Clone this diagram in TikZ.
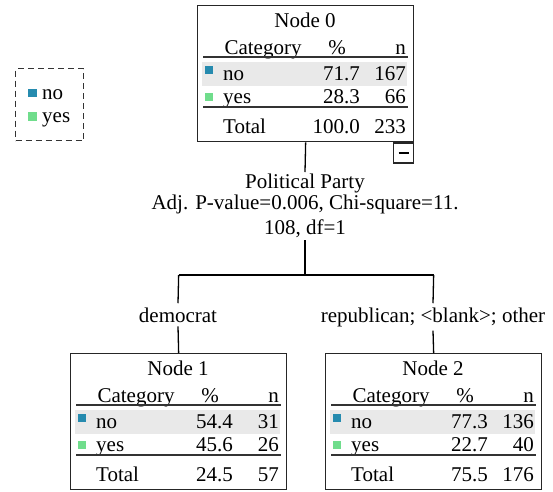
\documentclass[tikz,border=0pt]{standalone}
\usepackage{fontspec}
\setmainfont{Liberation Serif}
\definecolor{noblue}{RGB}{38,139,175}
\definecolor{yesgreen}{RGB}{112,221,140}
\definecolor{rowgray}{RGB}{233,233,233}
\tikzset{
  treebox/.style={draw=black!85, line width=1.3pt, minimum width=216pt,
    minimum height=136pt, anchor=north west, inner sep=0pt},
  cell/.style={inner sep=0pt, font=\fontsize{21}{24}\selectfont},
  tablerule/.style={line width=1.6pt, draw=black!80},
  link/.style={line width=1.3pt},
}
\newcommand{\catbox}[8]{%
  \begin{scope}[shift={#2}]
    \fill[rowgray] (5,57) rectangle (210,81);
    \node[treebox] (node#1) at (0,0) {};
    \node[cell, anchor=base] (n#1-title) at (108,22) {Node #1};
    \node[cell, anchor=base] (n#1-cat) at (66,49) {Category};
    \node[cell, anchor=base] (n#1-pct) at (140,49) {\%};
    \node[cell, anchor=base east] (n#1-n) at (209,49) {n};
    \draw[tablerule] (6,52) -- (211,52);
    \fill[noblue] (8,61) rectangle (16,69);
    \node[cell, anchor=base west] (n#1-no) at (26,75) {no};
    \node[cell, anchor=base east] (n#1-nop) at (163,75) {#3};
    \node[cell, anchor=base east] (n#1-non) at (209,75) {#4};
    \fill[yesgreen] (8,88) rectangle (16,96);
    \node[cell, anchor=base west] (n#1-yes) at (26,98) {yes};
    \node[cell, anchor=base east] (n#1-yesp) at (163,98) {#5};
    \node[cell, anchor=base east] (n#1-yesn) at (209,98) {#6};
    \draw[tablerule] (6,102) -- (211,102);
    \node[cell, anchor=base west] (n#1-tot) at (26,128) {Total};
    \node[cell, anchor=base east] (n#1-totp) at (163,128) {#7};
    \node[cell, anchor=base east] (n#1-totn) at (209,128) {#8};
  \end{scope}}

\begin{document}
\begin{tikzpicture}[x=1pt, y=-1pt]
  \useasboundingbox (0,0) rectangle (553,491);

  \node[draw=black!80, line width=1.2pt, dash pattern=on 6pt off 4pt,
    minimum width=68pt, minimum height=72pt, anchor=north west] (legend) at (15,68) {};
  \fill[noblue] (28,89) rectangle (37,97);
  \node[cell, anchor=base west] (legend-no) at (42,99) {no};
  \fill[yesgreen] (28,112) rectangle (37,121);
  \node[cell, anchor=base west] (legend-yes) at (42,122) {yes};

  \catbox{0}{(197,5)}{71.7}{167}{28.3}{66}{100.0}{233}
  \catbox{1}{(70,353)}{54.4}{31}{45.6}{26}{24.5}{57}
  \catbox{2}{(325,353)}{77.3}{136}{22.7}{40}{75.5}{176}

  \node[draw=black!85, line width=1.2pt, minimum width=20pt, minimum height=20pt,
    inner sep=0pt, anchor=north east] (collapse) at (node0.south east) {};
  \draw[line width=1.5pt] ([xshift=-5pt]collapse.center) -- ([xshift=5pt]collapse.center);

  \node[align=center, inner sep=2pt, anchor=north, font=\fontsize{21}{21}\selectfont]
    (split) at (305,172) {Political Party\\Adj. P-value=0.006, Chi-square=11.\\[4pt]108, df=1};
  \coordinate (fork) at (305,275);
  \node[cell, inner sep=4pt, anchor=base] (democrat) at (178,322) {democrat};
  \node[cell, inner sep=4pt, anchor=base] (other) at (433,322) {republican; <blank>; other};

  \draw[link] (node0.south) -- (split.north);
  \draw[link] (split.south) -- (fork);
  \draw[link] (node1.north |- fork) -- (node2.north |- fork);
  \draw[link] (node1.north |- fork) -- (democrat.north);
  \draw[link] (democrat.south) -- (node1.north);
  \draw[link] (node2.north |- fork) -- (other.north);
  \draw[link] (other.south) -- (node2.north);
\end{tikzpicture}
\end{document}
